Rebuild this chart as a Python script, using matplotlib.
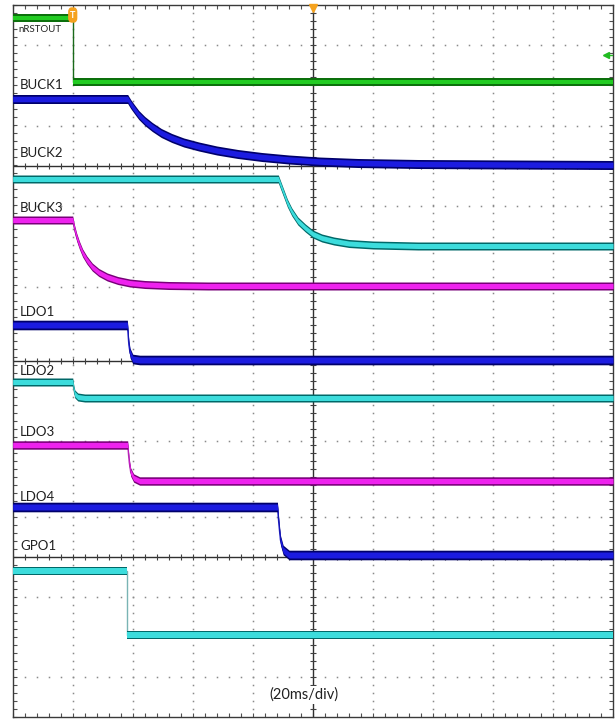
import numpy as np
import matplotlib
matplotlib.use("Agg")
import matplotlib.pyplot as plt
from matplotlib.patches import FancyBboxPatch

plt.rcParams['font.family'] = ['Lato', 'DejaVu Sans']

# ---------------- data (time in ms, level in screen units from top) ----------------
NRST_T = [0, 20, 20, 200]
NRST_V = [13, 13, 77, 77]

BUCK1_T = [0, 38.3, 39.3, 40.5, 42, 44, 46.5, 49.5, 53, 57, 62, 68, 75, 83, 92, 102, 115, 135, 165, 200]
BUCK1_V = [94, 94, 99, 104, 110, 116, 122, 128, 133, 137.5, 141.5, 145.5, 149, 152, 154.5, 156.5, 158, 159, 159.5, 160]

BUCK2_T = [0, 88.5, 89.5, 90.5, 91.5, 93, 95, 97.5, 100, 103, 107, 112, 120, 135, 200]
BUCK2_V = [174, 174, 182, 190, 198, 207, 216, 223, 229, 233, 236, 238.5, 240, 241, 241]

BUCK3_T = [0, 20, 20.6, 21.3, 22.2, 23.3, 24.7, 26.5, 28.7, 31.5, 35, 39, 44, 52, 65, 200]
BUCK3_V = [215, 215, 224, 232, 240, 248, 255, 262, 267.5, 272, 275.5, 278, 279.5, 280.5, 281, 281]

LDO1_T = [0, 38.2, 38.7, 39.1, 40.0, 42.3, 200]
LDO1_V = [320, 320, 340, 348, 354, 355, 355]

LDO2_T = [0, 20, 20.4, 20.7, 21.7, 24, 200]
LDO2_V = [377, 377, 385, 389, 392, 393, 393]

LDO3_T = [0, 38.3, 38.8, 39.3, 40.3, 42.3, 200]
LDO3_V = [440, 440, 457, 467, 473, 476, 476]

LDO4_T = [0, 88.2, 88.7, 89.2, 90.1, 92.1, 200]
LDO4_V = [502, 502, 520, 535, 545, 550, 550]

GPO1_T = [0, 38.0, 38.0, 200]
GPO1_V = [566, 566, 630, 630]

LABELS = ["BUCK1", "BUCK2", "BUCK3", "LDO1", "LDO2", "LDO3", "LDO4", "GPO1"]
LABEL_Y = [80, 148, 203, 307, 366, 427, 492, 541]

TIME_LABEL = "(20ms/div)"

# ---------------- figure ----------------
W, H = 616, 719
fig = plt.figure(figsize=(W / 100, H / 100), dpi=100)
x0, x1, ytop, ybot = 12.7, 613.0, 5.0, 717.0
ax = fig.add_axes([x0 / W, (H - ybot) / H, (x1 - x0) / W, (ybot - ytop) / H])
ax.set_xlim(0, 200)
ax.set_ylim(712, 0)

for s in ax.spines.values():
    s.set_color('#3a3a3a')
    s.set_linewidth(1.0)

ax.set_xticks(np.arange(0, 201, 4))
ax.set_yticks(np.arange(0, 713, 8))
ax.tick_params(direction='in', length=3, width=0.8, color='#505050',
               top=True, right=True, labelbottom=False, labelleft=False)

grid_c = '#8a8a8a'
for gx in range(20, 200, 20):
    if gx == 100:
        continue
    ys = np.arange(0, 712, 8)
    ax.plot(np.full_like(ys, gx, dtype=float), ys, ls='none', marker='s', ms=1.1,
            mec='none', mfc=grid_c, zorder=1)
for gy in [40, 121, 201, 282, 436, 512, 592, 672]:
    xs = np.arange(0, 200.1, 4)
    ax.plot(xs, np.full_like(xs, gy), ls='none', marker='s', ms=1.1,
            mec='none', mfc=grid_c, zorder=1)

ax.axvline(100, color='#303030', lw=1.0, zorder=2)
ys = np.arange(0, 712, 8)
ax.plot(np.full_like(ys, 100, dtype=float), ys, ls='none', marker='_', ms=4,
        mew=0.8, color='#404040', zorder=2)
for hy in [161, 356, 552]:
    ax.axhline(hy, color='#303030', lw=1.0, zorder=2)
    xs = np.arange(0, 200.1, 4)
    ax.plot(xs, np.full_like(xs, hy), ls='none', marker='|', ms=4,
            mew=0.8, color='#404040', zorder=2)


def trace(t, v, bright, dark, edge, h_out=4.2, h_in=2.6, lw_edge=1.0):
    t = np.asarray(t, float)
    v = np.asarray(v, float)
    ax.plot(t, v, color=edge, lw=lw_edge, zorder=3, solid_capstyle='butt')
    ax.fill_between(t, v - h_out, v + h_out, color=dark, lw=0, zorder=4)
    ax.fill_between(t, v - h_in, v + h_in, color=bright, lw=0, zorder=5)


GREEN = ('#22cc22', '#0c700c', '#1a6a1a')
BLUE = ('#1c1ce0', '#00006a', '#2a2ad0')
CYAN = ('#3cdcdc', '#006868', '#7ab4b4')
MAG = ('#ee22ee', '#780078', '#c040c0')

trace(NRST_T, NRST_V, *GREEN, h_out=4.0, h_in=2.4)
trace(BUCK1_T, BUCK1_V, *BLUE, h_out=4.5, h_in=2.8)
trace(BUCK2_T, BUCK2_V, *CYAN, h_out=4.0, h_in=2.5)
trace(BUCK3_T, BUCK3_V, *MAG, h_out=4.0, h_in=2.5)
trace(LDO1_T, LDO1_V, *BLUE, h_out=4.8, h_in=3.0)
trace(LDO2_T, LDO2_V, *CYAN, h_out=4.0, h_in=2.5)
trace(LDO3_T, LDO3_V, *MAG, h_out=4.2, h_in=2.6)
trace(LDO4_T, LDO4_V, *BLUE, h_out=4.8, h_in=3.0)
trace(GPO1_T, GPO1_V, *CYAN, h_out=4.2, h_in=2.6)

ax.text(1.8, 25, "nRSTOUT", fontsize=7, color='#202020', va='center', ha='left', zorder=6)
for lab, ly in zip(LABELS, LABEL_Y):
    ax.text(2.4, ly, lab, fontsize=9.5, color='#202020', va='center', ha='left', zorder=6)
ax.text(97, 690, TIME_LABEL, fontsize=10.5, color='#202020', va='center', ha='center', zorder=6,
        bbox=dict(fc='white', ec='none', pad=1.5))

tb = FancyBboxPatch((20 - 1.3, 3), 2.6, 14, boxstyle='round,pad=0,rounding_size=1',
                    fc='#f5a21e', ec='#f5a21e', zorder=7, mutation_aspect=4)
ax.add_patch(tb)
ax.text(20, 10.5, "T", fontsize=6.5, color='white', ha='center', va='center',
        fontweight='bold', zorder=8)
ax.plot([100], [2.5], marker='v', ms=6, color='#f5a21e', mec='#f5a21e', zorder=8,
        clip_on=False)
ax.plot([197.8], [50], marker='<', ms=5, color='#22bb22', mec='#22bb22', zorder=8)
ax.plot([198.3, 200], [50, 50], color='#22bb22', lw=1, zorder=8)

fig.savefig("out.png", dpi=100)
